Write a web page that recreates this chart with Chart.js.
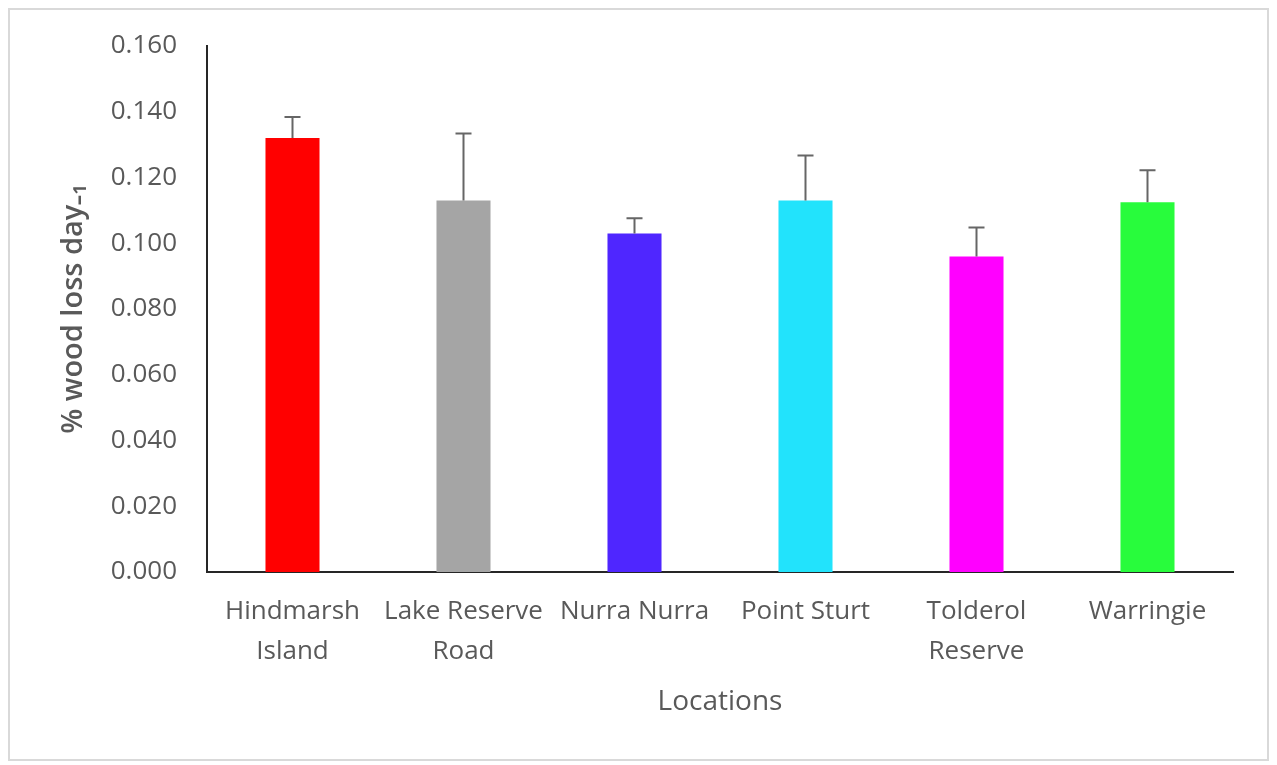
<!DOCTYPE html>
<html>
<head>
<meta charset="utf-8">
<script src="https://cdn.jsdelivr.net/npm/chart.js@4"></script>
<style>
  html, body { margin: 0; padding: 0; background: #fff; }
  #wrap { width: 1277px; height: 765px; position: relative; }
</style>
</head>
<body>
<div id="wrap"><canvas id="bars"></canvas></div>
<script>
var locations = [["Hindmarsh", "Island"], ["Lake Reserve", "Road"], "Nurra Nurra", "Point Sturt", ["Tolderol", "Reserve"], "Warringie"];
var woodLoss = [0.132, 0.113, 0.103, 0.113, 0.096, 0.1125];
var stdError = [0.0064, 0.0204, 0.0046, 0.0137, 0.0088, 0.0097];
var barColours = ["#ff0000", "#a5a5a5", "#4f26ff", "#22e3fc", "#ff00ff", "#28fc3c"];

var FONT = "'Liberation Sans Narrow', 'Open Sans', sans-serif";
var GREY = "#595959";

// light frame round the whole chart
var frame = {
  id: "frame",
  beforeDraw: function(chart) {
    var ctx = chart.ctx;
    ctx.save();
    ctx.strokeStyle = "#d9d9d9";
    ctx.lineWidth = 2;
    ctx.strokeRect(9, 9, chart.width - 18, chart.height - 14);
    ctx.restore();
  }
};

// upper error bars
var errorBars = {
  id: "errorBars",
  afterDatasetsDraw: function(chart) {
    var ctx = chart.ctx;
    var y = chart.scales.y;
    var meta = chart.getDatasetMeta(0);
    ctx.save();
    ctx.strokeStyle = "#666666";
    ctx.lineWidth = 2;
    meta.data.forEach(function(bar, i) {
      var top = y.getPixelForValue(woodLoss[i] + stdError[i]);
      ctx.beginPath();
      ctx.moveTo(bar.x, bar.y);
      ctx.lineTo(bar.x, top);
      ctx.moveTo(bar.x - 8, top);
      ctx.lineTo(bar.x + 8, top);
      ctx.stroke();
    });
    ctx.restore();
  }
};

new Chart(document.getElementById("bars"), {
  type: "bar",
  data: {
    labels: locations,
    datasets: [{
      data: woodLoss,
      backgroundColor: barColours,
      borderWidth: 0,
      barPercentage: 1,
      categoryPercentage: 0.316
    }]
  },
  options: {
    responsive: true,
    maintainAspectRatio: false,
    animation: false,
    layout: { padding: { left: 56, right: 44, top: 46, bottom: 40 } },
    plugins: {
      legend: { display: false },
      tooltip: { enabled: false }
    },
    scales: {
      x: {
        grid: { display: false, drawTicks: false },
        border: { color: "#262626", width: 2 },
        ticks: { color: GREY, font: { family: FONT, size: 26, lineHeight: 1.55 }, padding: 19, maxRotation: 0, autoSkip: false },
        title: { display: true, text: "Locations", color: GREY, font: { family: FONT, size: 28 }, padding: { top: 10, bottom: 6 } },
        afterFit: function(s) { s.height = 153; }
      },
      y: {
        min: 0,
        max: 0.16,
        grid: { display: false, drawTicks: false },
        border: { color: "#262626", width: 2 },
        ticks: {
          stepSize: 0.02,
          color: GREY,
          font: { family: FONT, size: 26 },
          padding: 30,
          callback: function(v) { return v.toFixed(3); }
        },
        title: { display: true, text: "% wood loss day\u208B\u2081", color: GREY, font: { family: FONT, size: 29, weight: "600" }, padding: { top: 0, bottom: 4 } },
        afterFit: function(s) { s.width = 207 - 56; }
      }
    }
  },
  plugins: [frame, errorBars]
});
</script>
</body>
</html>
